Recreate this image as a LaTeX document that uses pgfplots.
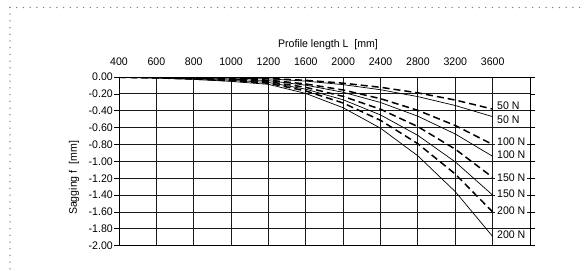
\documentclass[border=0pt]{standalone}
\usepackage{fontspec}
\setmainfont{Liberation Sans}[FakeStretch=0.96]
\usepackage{pgfplots}
\pgfplotsset{compat=1.18}
\begin{document}
\begin{tikzpicture}
\useasboundingbox (0pt,0pt) rectangle (585pt,-270pt);
\fill[white] (0pt,0pt) rectangle (585pt,-270pt);
\draw[black!50, line width=1.5pt, line cap=round, dash pattern=on 0pt off 6.7pt] (10pt,-7.5pt) -- (585pt,-7.5pt);
\draw[black!50, line width=1.5pt, line cap=round, dash pattern=on 0pt off 6.7pt] (10pt,-7.5pt) -- (10pt,-270pt);
\begin{axis}[
  at={(119pt,-245.7pt)}, anchor=south west,
  scale only axis, width=411pt, height=168.7pt,
  xmin=400, xmax=4000, ymin=-2, ymax=0,
  x coord trafo/.code={\pgfmathparse{(#1<=1200)*((#1-400)/200)+(#1>1200)*(4+(#1-1200)/400)}},
  x coord inv trafo/.code={\pgfmathparse{(#1<=4)*(400+200*#1)+(#1>4)*(1200+400*(#1-4))}},
  xtick={400,600,800,1000,1200,1600,2000,2400,2800,3200,3600},
  xticklabels={400,600,800,1000,1200,1600,2000,2400,2800,3200,3600},
  ytick={-2,-1.8,-1.6,-1.4,-1.2,-1,-0.8,-0.6,-0.4,-0.2,0},
  yticklabels={-2.00,-1.80,-1.60,-1.40,-1.20,-1.00,-0.80,-0.60,-0.40,-0.20,0.00},
  xticklabel pos=upper,
  xmajorgrids, ymajorgrids,
  grid style={black!90, line width=0.9pt},
  axis line style={black, line width=0.9pt},
  x tick style={draw=none},
  y tick style={black, line width=0.7pt},
  tick align=outside, major tick length=5pt,
  ticklabel style={font=\fontsize{11}{13}\selectfont},
  xticklabel style={yshift=3pt},
  yticklabel style={inner sep=0pt, xshift=-1pt},
]
% dashed curves
\addplot[black, line width=1.5pt, dash pattern=on 7pt off 4pt] coordinates {
(400,-0.0008) (600,-0.0025) (800,-0.0056) (1000,-0.0105) (1200,-0.0175) (1600,-0.0393) (2000,-0.0733) (2400,-0.1221) (2800,-0.1880) (3200,-0.2733) (3600,-0.38)};
\addplot[black, line width=1.5pt, dash pattern=on 7pt off 4pt] coordinates {
(400,-0.0017) (600,-0.0053) (800,-0.0119) (1000,-0.0221) (1200,-0.0369) (1600,-0.0826) (2000,-0.1543) (2400,-0.2570) (2800,-0.3958) (3200,-0.5753) (3600,-0.80)};
\addplot[black, line width=1.5pt, dash pattern=on 7pt off 4pt] coordinates {
(400,-0.0025) (600,-0.0079) (800,-0.0176) (1000,-0.0329) (1200,-0.0549) (1600,-0.1229) (2000,-0.2296) (2400,-0.3823) (2800,-0.5888) (3200,-0.8557) (3600,-1.19)};
\addplot[black, line width=1.5pt, dash pattern=on 7pt off 4pt] coordinates {
(400,-0.0034) (600,-0.0106) (800,-0.0237) (1000,-0.0443) (1200,-0.0738) (1600,-0.1653) (2000,-0.3086) (2400,-0.5141) (2800,-0.7917) (3200,-1.1506) (3600,-1.60)};
% solid curves
\addplot[black, line width=0.7pt] coordinates {
(400,-0.0010) (600,-0.0031) (800,-0.0070) (1000,-0.0130) (1200,-0.0217) (1600,-0.0486) (2000,-0.0907) (2400,-0.1510) (2800,-0.2326) (3200,-0.3380) (3600,-0.47)};
\addplot[black, line width=0.7pt] coordinates {
(400,-0.0020) (600,-0.0062) (800,-0.0139) (1000,-0.0260) (1200,-0.0433) (1600,-0.0971) (2000,-0.1813) (2400,-0.3020) (2800,-0.4651) (3200,-0.6760) (3600,-0.94)};
\addplot[black, line width=0.7pt] coordinates {
(400,-0.0030) (600,-0.0093) (800,-0.0208) (1000,-0.0388) (1200,-0.0645) (1600,-0.1446) (2000,-0.2701) (2400,-0.4498) (2800,-0.6927) (3200,-1.0067) (3600,-1.40)};
\addplot[black, line width=0.7pt] coordinates {
(400,-0.0040) (600,-0.0125) (800,-0.0280) (1000,-0.0523) (1200,-0.0871) (1600,-0.1952) (2000,-0.3646) (2400,-0.6073) (2800,-0.9352) (3200,-1.3591) (3600,-1.89)};
\end{axis}
\begin{scope}[every node/.style={fill=white, inner xsep=2pt, inner ysep=0.5pt, anchor=west, font=\fontsize{11}{13}\selectfont}]
\node at (495pt,-106pt) {50 N};
\node at (495pt,-120pt) {50 N};
\node at (495pt,-141.7pt) {100 N};
\node at (495pt,-154.3pt) {100 N};
\node at (495pt,-177.7pt) {150 N};
\node at (495pt,-194pt) {150 N};
\node at (495pt,-211pt) {200 N};
\node at (495pt,-234.7pt) {200 N};
\end{scope}
\node[font=\fontsize{11}{13}\selectfont] at (328pt,-45pt) {Profile length L\ \ [mm]};
\node[font=\fontsize{11}{13}\selectfont, rotate=90] at (74pt,-178pt) {Sagging f\ \ [mm]};
\end{tikzpicture}
\end{document}
